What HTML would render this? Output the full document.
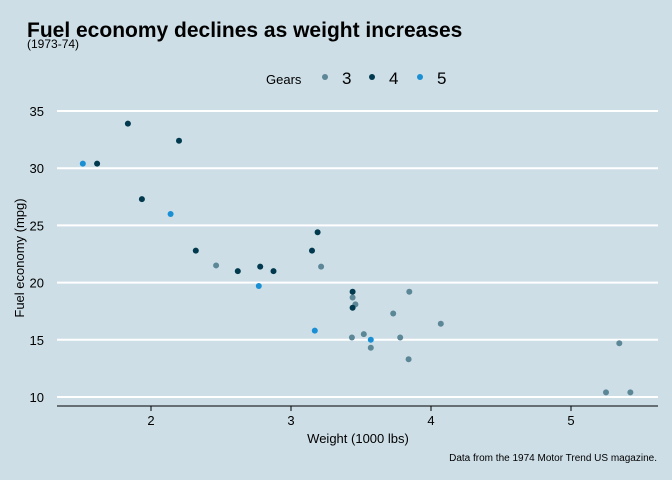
<!DOCTYPE html>
<html><head><meta charset="utf-8"><style>
body{margin:0;background:#cddee6;}
svg{display:block;font-family:"Liberation Sans",sans-serif;}
</style></head><body>
<svg id="c" width="672" height="480">
<rect width="672" height="480" fill="#cddee6"/>
<text x="27" y="37" font-size="21" font-weight="bold" fill="#000">Fuel economy declines as weight increases</text>
<text x="27" y="48" font-size="12" fill="#000">(1973-74)</text>
<g>
<text x="266" y="84" font-size="13">Gears</text>
<circle cx="325" cy="77" r="3" fill="#5c8797"/>
<text x="342" y="84" font-size="17">3</text>
<circle cx="372" cy="77" r="3" fill="#013a4f"/>
<text x="389" y="84" font-size="17">4</text>
<circle cx="420" cy="77" r="3" fill="#1a8fd4"/>
<text x="437" y="84" font-size="17">5</text>
</g>
<g id="grid"></g><g id="axes"></g><g id="pts"></g>
<text x="358" y="443" font-size="13" text-anchor="middle">Weight (1000 lbs)</text>
<text transform="translate(24,258) rotate(-90)" font-size="13" text-anchor="middle">Fuel economy (mpg)</text>
<text x="657" y="461" font-size="10" text-anchor="end">Data from the 1974 Motor Trend US magazine.</text>
</svg>
<script>
const weights=[2.620,2.875,2.320,3.215,3.440,3.460,3.570,3.190,3.150,3.440,3.440,4.070,3.730,3.780,5.250,5.424,5.345,2.200,1.615,1.835,2.465,3.520,3.435,3.840,3.845,1.935,2.140,1.513,3.170,2.770,3.570,2.780];
const mpgs=[21.0,21.0,22.8,21.4,18.7,18.1,14.3,24.4,22.8,19.2,17.8,16.4,17.3,15.2,10.4,10.4,14.7,32.4,30.4,33.9,21.5,15.5,15.2,13.3,19.2,27.3,26.0,30.4,15.8,19.7,15.0,21.4];
const gears=[4,4,4,3,3,3,3,4,4,4,4,3,3,3,3,3,3,4,4,4,3,3,3,3,3,4,5,5,5,5,5,4];
const xTicks=[2,3,4,5];
const yTicks=[10,15,20,25,30,35];
const colors={3:"#5c8797",4:"#013a4f",5:"#1a8fd4"};
const NS="http://www.w3.org/2000/svg";
function xs(v){return 151+(v-2)*140;}
function ys(v){return 397-(v-10)*11.44;}
function mk(t,a,p){const e=document.createElementNS(NS,t);for(const k in a)e.setAttribute(k,a[k]);p.appendChild(e);return e;}
const grid=document.getElementById('grid'),axes=document.getElementById('axes'),pts=document.getElementById('pts');
yTicks.forEach(t=>{
 const l=mk('line',{x1:57,x2:658,y1:ys(t),y2:ys(t),stroke:'#fff','stroke-width':2},grid);
 
 
 const tx=mk('text',{x:44,y:ys(t)+5,'font-size':13,'text-anchor':'end'},axes);tx.textContent=t;
 
 
});
const ax=mk('line',{x1:57,x2:658,y1:406,y2:406,stroke:'#000','stroke-width':1},axes);


xTicks.forEach(t=>{
 const tk=mk('line',{x1:xs(t),x2:xs(t),y1:406,y2:411,stroke:'#000'},axes);
 
 
 const tx=mk('text',{x:xs(t),y:425,'font-size':13,'text-anchor':'middle'},axes);tx.textContent=t;
 
 
});
weights.forEach((w,i)=>{
 const c=mk('circle',{cx:xs(w),cy:ys(mpgs[i]),r:3,fill:colors[gears[i]]},pts);
 
 
});
</script>
</body></html>
